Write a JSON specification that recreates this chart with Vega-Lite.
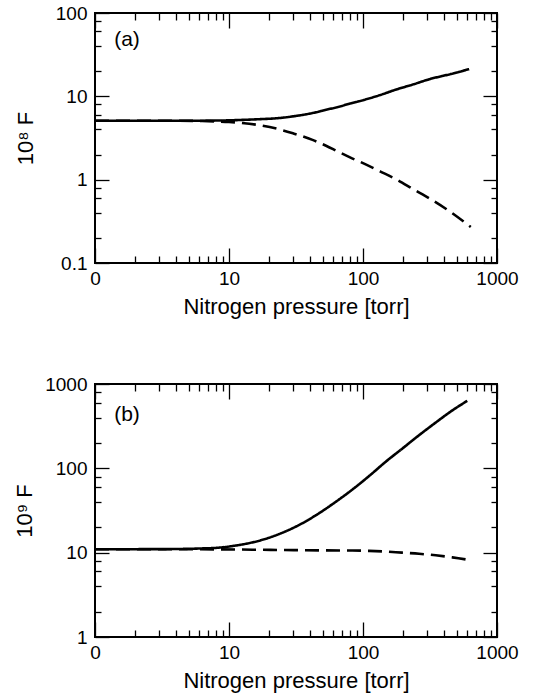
{
  "$schema": "https://vega.github.io/schema/vega-lite/v6.json",
  "background": "white",
  "padding": {"left": 12, "top": 3, "right": 5, "bottom": 3},
  "spacing": 56,
  "config": {
    "view": {"stroke": "black", "strokeWidth": 2},
    "font": "Liberation Sans",
    "axis": {
      "domain": false, "grid": false,
      "labelFont": "Liberation Sans", "labelFontSize": 19, "labelColor": "black",
      "labelFlush": false, "labelOverlap": false, "labelBound": false,
      "titleFont": "Liberation Sans", "titleFontSize": 22, "titleFontWeight": "normal", "titleColor": "black",
      "tickColor": "black", "tickWidth": 1.3
    }
  },
  "datasets": {
    "curvesA": [
      {"series": "solid", "p": 1, "F": 5.1}, {"series": "solid", "p": 2, "F": 5.1}, {"series": "solid", "p": 4, "F": 5.1},
      {"series": "solid", "p": 6, "F": 5.1}, {"series": "solid", "p": 8, "F": 5.12}, {"series": "solid", "p": 10, "F": 5.15},
      {"series": "solid", "p": 12, "F": 5.2}, {"series": "solid", "p": 17, "F": 5.32}, {"series": "solid", "p": 24, "F": 5.5},
      {"series": "solid", "p": 30, "F": 5.75}, {"series": "solid", "p": 42, "F": 6.3}, {"series": "solid", "p": 53, "F": 6.9},
      {"series": "solid", "p": 64, "F": 7.4}, {"series": "solid", "p": 80, "F": 8.2}, {"series": "solid", "p": 100, "F": 9.0},
      {"series": "solid", "p": 135, "F": 10.4}, {"series": "solid", "p": 175, "F": 12.0}, {"series": "solid", "p": 240, "F": 14.0},
      {"series": "solid", "p": 311, "F": 16.0}, {"series": "solid", "p": 450, "F": 18.5}, {"series": "solid", "p": 620, "F": 21.2},
      {"series": "dashed", "p": 1, "F": 5.1}, {"series": "dashed", "p": 2, "F": 5.1}, {"series": "dashed", "p": 4, "F": 5.09},
      {"series": "dashed", "p": 6, "F": 5.06}, {"series": "dashed", "p": 8, "F": 5.0}, {"series": "dashed", "p": 10, "F": 4.92},
      {"series": "dashed", "p": 12, "F": 4.82}, {"series": "dashed", "p": 17, "F": 4.5}, {"series": "dashed", "p": 24, "F": 4.0},
      {"series": "dashed", "p": 30, "F": 3.6}, {"series": "dashed", "p": 42, "F": 3.0}, {"series": "dashed", "p": 53, "F": 2.55},
      {"series": "dashed", "p": 64, "F": 2.2}, {"series": "dashed", "p": 80, "F": 1.85}, {"series": "dashed", "p": 100, "F": 1.58},
      {"series": "dashed", "p": 135, "F": 1.25}, {"series": "dashed", "p": 175, "F": 1.02}, {"series": "dashed", "p": 240, "F": 0.76},
      {"series": "dashed", "p": 311, "F": 0.6}, {"series": "dashed", "p": 450, "F": 0.41}, {"series": "dashed", "p": 637, "F": 0.27}
    ],
    "curvesB": [
      {"series": "solid", "p": 1, "F": 11.0}, {"series": "solid", "p": 2, "F": 11.0}, {"series": "solid", "p": 4, "F": 11.05},
      {"series": "solid", "p": 6, "F": 11.2}, {"series": "solid", "p": 8.4, "F": 11.46}, {"series": "solid", "p": 11.2, "F": 12.14},
      {"series": "solid", "p": 14.9, "F": 13.22}, {"series": "solid", "p": 19.9, "F": 15.04}, {"series": "solid", "p": 26.4, "F": 17.86},
      {"series": "solid", "p": 35.2, "F": 22.3}, {"series": "solid", "p": 46.9, "F": 29.3}, {"series": "solid", "p": 62.4, "F": 39.9},
      {"series": "solid", "p": 83, "F": 55.8}, {"series": "solid", "p": 111, "F": 81}, {"series": "solid", "p": 148, "F": 120},
      {"series": "solid", "p": 197, "F": 172}, {"series": "solid", "p": 262, "F": 247}, {"series": "solid", "p": 348, "F": 348},
      {"series": "solid", "p": 464, "F": 486}, {"series": "solid", "p": 600, "F": 632},
      {"series": "dashed", "p": 1, "F": 11.0}, {"series": "dashed", "p": 4, "F": 11.0}, {"series": "dashed", "p": 8, "F": 10.95},
      {"series": "dashed", "p": 15, "F": 10.85}, {"series": "dashed", "p": 26, "F": 10.75}, {"series": "dashed", "p": 47, "F": 10.65},
      {"series": "dashed", "p": 83, "F": 10.6}, {"series": "dashed", "p": 111, "F": 10.5}, {"series": "dashed", "p": 150, "F": 10.3},
      {"series": "dashed", "p": 196, "F": 10.0}, {"series": "dashed", "p": 262, "F": 9.7}, {"series": "dashed", "p": 349, "F": 9.3},
      {"series": "dashed", "p": 464, "F": 8.8}, {"series": "dashed", "p": 650, "F": 8.1}
    ]
  },
  "vconcat": [
    {
      "width": 402, "height": 250,
      "layer": [
        {
          "data": {"name": "curvesA"},
          "mark": {"type": "line", "color": "black", "strokeWidth": 2.6, "clip": true, "interpolate": "monotone"},
          "encoding": {
            "x": {"field": "p", "type": "quantitative", "scale": {"type": "log", "domain": [1, 1000]},
              "axis": {"orient": "bottom", "values": [1,2,3,4,5,6,7,8,9,10,20,30,40,50,60,70,80,90,100,200,300,400,500,600,700,800,900,1000],
                "labelExpr": "indexof([1,10,100,1000], datum.value) < 0 ? '' : (datum.value == 1 ? '0' : format(datum.value, '~g'))",
                "tickSize": {"condition": {"test": "indexof([1,10,100,1000], datum.value) >= 0", "value": -15}, "value": -7},
                "labelPadding": 21, "title": "Nitrogen pressure [torr]", "titlePadding": 0}},
            "y": {"field": "F", "type": "quantitative", "scale": {"type": "log", "domain": [0.1, 100]},
              "axis": {"orient": "left", "values": [0.1,0.2,0.4,0.6,0.8,1,2,4,6,8,10,20,40,60,80,100],
                "labelExpr": "indexof([0.1,1,10,100], datum.value) < 0 ? '' : format(datum.value, '~g')",
                "tickSize": {"condition": {"test": "indexof([0.1,1,10,100], datum.value) >= 0", "value": -14}, "value": -6},
                "labelPadding": 22, "title": "10⁸ F", "titleFontSize": 22, "titlePadding": 18}},
            "strokeDash": {"field": "series", "type": "nominal", "scale": {"domain": ["solid", "dashed"], "range": [[1, 0], [14, 7]]}, "legend": null}
          }
        },
        {
          "data": {"values": [{"p": 1.39, "F": 47, "label": "(a)"}]},
          "mark": {"type": "text", "align": "left", "baseline": "middle", "fontSize": 21, "color": "black", "font": "Liberation Sans"},
          "encoding": {
            "x": {"field": "p", "type": "quantitative", "scale": {"type": "log", "domain": [1, 1000]},
              "axis": {"orient": "top", "values": [1,2,3,4,5,6,7,8,9,10,20,30,40,50,60,70,80,90,100,200,300,400,500,600,700,800,900,1000],
                "labels": false, "title": null,
                "tickSize": {"condition": {"test": "indexof([1,10,100,1000], datum.value) >= 0", "value": -15}, "value": -7}}},
            "y": {"field": "F", "type": "quantitative", "scale": {"type": "log", "domain": [0.1, 100]},
              "axis": {"orient": "right", "values": [0.1,0.2,0.4,0.6,0.8,1,2,4,6,8,10,20,40,60,80,100],
                "labels": false, "title": null,
                "tickSize": {"condition": {"test": "indexof([0.1,1,10,100], datum.value) >= 0", "value": -14}, "value": -6}}},
            "text": {"field": "label"}
          }
        }
      ],
      "resolve": {"axis": {"x": "independent", "y": "independent"}}
    },
    {
      "width": 402, "height": 253,
      "layer": [
        {
          "data": {"name": "curvesB"},
          "mark": {"type": "line", "color": "black", "strokeWidth": 2.6, "clip": true, "interpolate": "monotone"},
          "encoding": {
            "x": {"field": "p", "type": "quantitative", "scale": {"type": "log", "domain": [1, 1000]},
              "axis": {"orient": "bottom", "values": [1,2,3,4,5,6,7,8,9,10,20,30,40,50,60,70,80,90,100,200,300,400,500,600,700,800,900,1000],
                "labelExpr": "indexof([1,10,100,1000], datum.value) < 0 ? '' : (datum.value == 1 ? '0' : format(datum.value, '~g'))",
                "tickSize": {"condition": {"test": "indexof([1,10,100,1000], datum.value) >= 0", "value": -15}, "value": -7},
                "labelPadding": 21, "title": "Nitrogen pressure [torr]", "titlePadding": 0}},
            "y": {"field": "F", "type": "quantitative", "scale": {"type": "log", "domain": [1, 1000]},
              "axis": {"orient": "left", "values": [1,2,4,6,8,10,20,40,60,80,100,200,400,600,800,1000],
                "labelExpr": "indexof([1,10,100,1000], datum.value) < 0 ? '' : format(datum.value, '~g')",
                "tickSize": {"condition": {"test": "indexof([1,10,100,1000], datum.value) >= 0", "value": -14}, "value": -6},
                "labelPadding": 22, "title": "10⁹ F", "titleFontSize": 22, "titlePadding": 8}},
            "strokeDash": {"field": "series", "type": "nominal", "scale": {"domain": ["solid", "dashed"], "range": [[1, 0], [14, 7]]}, "legend": null}
          }
        },
        {
          "data": {"values": [{"p": 1.39, "F": 428, "label": "(b)"}]},
          "mark": {"type": "text", "align": "left", "baseline": "middle", "fontSize": 21, "color": "black", "font": "Liberation Sans"},
          "encoding": {
            "x": {"field": "p", "type": "quantitative", "scale": {"type": "log", "domain": [1, 1000]},
              "axis": {"orient": "top", "values": [1,2,3,4,5,6,7,8,9,10,20,30,40,50,60,70,80,90,100,200,300,400,500,600,700,800,900,1000],
                "labels": false, "title": null,
                "tickSize": {"condition": {"test": "indexof([1,10,100,1000], datum.value) >= 0", "value": -15}, "value": -7}}},
            "y": {"field": "F", "type": "quantitative", "scale": {"type": "log", "domain": [1, 1000]},
              "axis": {"orient": "right", "values": [1,2,4,6,8,10,20,40,60,80,100,200,400,600,800,1000],
                "labels": false, "title": null,
                "tickSize": {"condition": {"test": "indexof([1,10,100,1000], datum.value) >= 0", "value": -14}, "value": -6}}},
            "text": {"field": "label"}
          }
        }
      ],
      "resolve": {"axis": {"x": "independent", "y": "independent"}}
    }
  ]
}
